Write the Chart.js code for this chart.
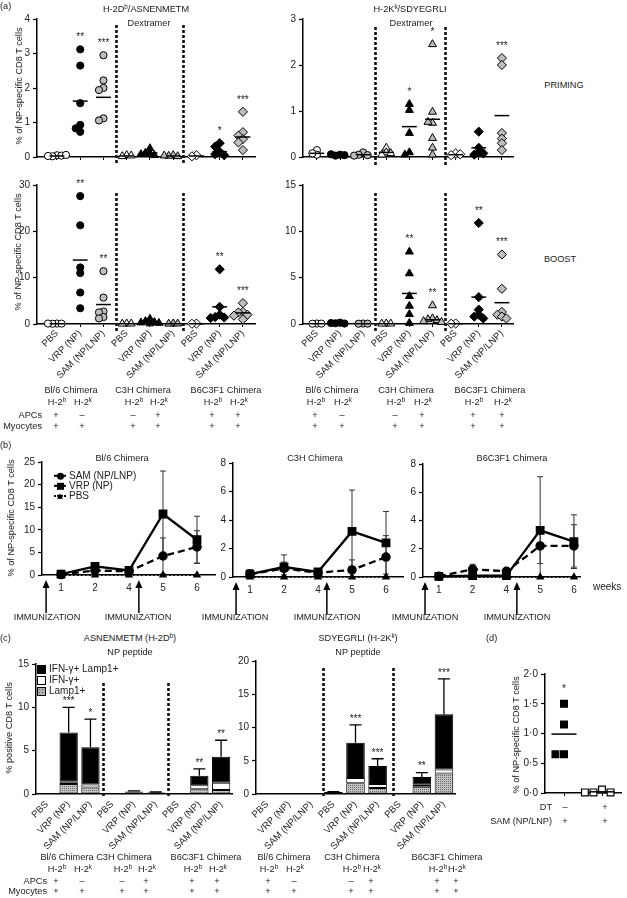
<!DOCTYPE html>
<html>
<head>
<meta charset="utf-8">
<script src="https://cdn.jsdelivr.net/npm/chart.js@4.4.1/dist/chart.umd.min.js"></script>
<style>
  html, body { margin: 0; background: #fff; overflow: hidden; }
  #fig { position: relative; width: 627px; height: 898px; overflow: hidden;
         font-family: "Liberation Sans", Arial, sans-serif; font-size: 9.2px; color: #222; }
  #fig canvas { position: absolute; }
  .t { position: absolute; white-space: nowrap; line-height: 1; }
  sup { font-size: 6.3px; vertical-align: 3.5px; line-height: 0; }
</style>
</head>
<body>
<div id="fig"></div>
<script>
// ---------- data ----------
const groupNames = ['PBS', 'VRP (NP)', 'SAM (NP/LNP)'];
const groupLabels = [...groupNames, ...groupNames, ...groupNames]; // Bl/6, C3H, B6C3F1

// (a) dextramer, one list per group
const primeDb = [
  [0.05, 0.02, 0.04, 0.03, 0.06],
  [3.12, 2.65, 1.56, 0.93, 0.83, 0.73],
  [2.95, 2.22, 2.0, 1.94, 1.12, 1.06],
  [0.05, 0.02, 0.04],
  [0.25, 0.12, 0.1, 0.05, 0.08],
  [0.05, 0.03, 0.02, 0.04],
  [0.05, 0.02],
  [0.4, 0.3, 0.15, 0.08, 0.05],
  [1.31, 0.72, 0.62, 0.52, 0.42, 0.2]
];
const primeDbMean = [0.03, 1.62, 1.73, 0.03, 0.12, 0.03, 0.03, 0.15, 0.58];
const primeDbStars = ['', '**', '***', '', '', '', '', '*', '***'];

const primeKk = [
  [0.15, 0.05, 0.08],
  [0.05, 0.03, 0.04, 0.06],
  [0.1, 0.05, 0.04, 0.03],
  [0.2, 0.1, 0.05, 0.08],
  [1.15, 1.02, 0.52, 0.1, 0.05],
  [2.45, 0.98, 0.74, 0.76, 0.41, 0.2, 0.05],
  [0.08, 0.04, 0.06],
  [0.55, 0.2, 0.1, 0.05, 0.08],
  [2.15, 2.0, 0.52, 0.4, 0.3, 0.15]
];
const primeKkMean = [0.08, 0.05, 0.05, 0.1, 0.66, 0.82, 0.05, 0.2, 0.9];
const primeKkStars = ['', '', '', '', '*', '*', '', '', '***'];

const boostDb = [
  [0.1, 0.05, 0.08, 0.1],
  [27.6, 21.3, 12.2, 11.0, 6.8, 3.4],
  [11.4, 5.7, 2.7, 2.5, 1.5, 1.2],
  [0.1, 0.05, 0.08],
  [1.1, 0.6, 0.4, 0.3, 0.2, 0.1],
  [0.1, 0.05, 0.08],
  [0.1, 0.05],
  [11.8, 3.7, 2.0, 1.5, 1.4, 1.3],
  [4.5, 2.6, 2.5, 2.0, 1.8, 1.0]
];
const boostDbMean = [0.05, 13.8, 4.2, 0.05, 0.4, 0.05, 0.05, 3.7, 2.4];
const boostDbStars = ['', '**', '**', '', '', '', '', '**', '***'];

const boostKk = [
  [0.05, 0.03, 0.04],
  [0.15, 0.08, 0.05, 0.1],
  [0.05, 0.03, 0.04],
  [0.05, 0.03, 0.04],
  [7.8, 5.45, 3.0, 1.95, 1.05, 0.1],
  [2.0, 0.6, 0.5, 0.4, 0.3, 0.2],
  [0.05, 0.03],
  [10.9, 2.9, 1.55, 1.0, 0.8, 0.6],
  [7.5, 3.8, 1.3, 1.0, 0.8, 0.6]
];
const boostKkMean = [0.03, 0.08, 0.03, 0.03, 3.3, 0.45, 0.03, 2.9, 2.3];
const boostKkStars = ['', '', '', '', '**', '**', '', '**', '***'];

// (b) kinetics
const weeks = ['1', '2', '4', '5', '6'];
const bl6Sam = [0.1, 1.0, 0.8, 4.2, 6.2],   bl6SamErr = [0.1, 0.6, 0.3, 4.0, 3.6];
const bl6Vrp = [0.2, 1.9, 1.0, 13.5, 7.8],  bl6VrpErr = [0.3, 0.8, 0.4, 9.5, 5.2];
const c3hSam = [0.2, 0.6, 0.3, 0.5, 1.4],   c3hSamErr = [0.3, 0.45, 0.1, 0.7, 1.5];
const c3hVrp = [0.2, 0.7, 0.35, 3.2, 2.4],  c3hVrpErr = [0.3, 0.85, 0.2, 2.9, 2.2];
const b6Sam = [0.05, 0.55, 0.4, 2.2, 2.2],  b6SamErr = [0.05, 0.35, 0.15, 1.25, 1.5];
const b6Vrp = [0.05, 0.1, 0.1, 3.3, 2.5],   b6VrpErr = [0.05, 0.1, 0.1, 3.8, 1.9];
const pbsLine = [0, 0, 0, 0, 0];

// (c) intracellular staining, stacked
const lampDb = [0.05, 1.15, 0.75, 0.02, 0.1, 0.08, 0.02, 0.55, 0.45];
const ifnDb  = [0.02, 0.25, 0.35, 0.01, 0.05, 0.1, 0.01, 0.45, 0.85];
const dblDb  = [0.03, 5.7, 4.3, 0.02, 0.15, 0.02, 0.02, 1.1, 3.0];
const errDb  = [0, 2.9, 3.25, 0, 0.05, 0.03, 0, 0.8, 1.9];
const starsDb = ['', '***', '*', '', '', '', '', '**', '**'];

const lampKk = [0.02, 0.02, 0.02, 0.1, 1.6, 0.9, 0.02, 1.1, 3.1];
const ifnKk  = [0.01, 0.01, 0.01, 0.05, 0.8, 0.6, 0.01, 0.3, 0.6];
const dblKk  = [0.02, 0.02, 0.02, 0.15, 5.3, 2.7, 0.02, 1.15, 8.3];
const errKk  = [0, 0, 0, 0.05, 2.7, 1.1, 0, 0.65, 5.3];
const starsKk = ['', '', '', '', '***', '***', '', '**', '***'];

// (d) DT depletion
const dtGroups = ['–', '+'];
const dtVals = [[1.5, 1.15, 0.65, 0.65], [0.06, 0.01, 0.01, 0.01]];
const dtMean = [0.99, 0.02];

// ---------- setup ----------
Chart.defaults.font.family = '"Liberation Sans", Arial, sans-serif';
Chart.defaults.font.size = 10;
Chart.defaults.color = '#222';
Chart.defaults.animation = false;
Chart.defaults.responsive = false;
Chart.defaults.devicePixelRatio = 1;
Chart.defaults.plugins.legend.display = false;
Chart.defaults.plugins.tooltip.enabled = false;

const fig = document.getElementById('fig');

function errBar(ctx, px, yLo, yHi, half, capLo) {
  ctx.beginPath();
  ctx.moveTo(px, yLo); ctx.lineTo(px, yHi);
  ctx.moveTo(px - half, yHi); ctx.lineTo(px + half, yHi);
  if (capLo) { ctx.moveTo(px - half, yLo); ctx.lineTo(px + half, yLo); }
  ctx.stroke();
}

// dashed separators, error bars, stars and arrows, all placed through the scales
const extras = {
  id: 'extras',
  beforeDatasetsDraw(chart, args, o) {
    const { ctx } = chart, x = chart.scales.x, y = chart.scales.y;
    ctx.save();
    ctx.strokeStyle = '#333'; ctx.lineWidth = 1;
    (o.errs || []).forEach(e => {
      chart.data.datasets[e.ds].data.forEach((pt, i) => {
        const err = e.err[i];
        if (!err) return;
        const lo = pt.y - err;
        errBar(ctx, x.getPixelForValue(pt.x), y.getPixelForValue(Math.max(lo, 0)),
               y.getPixelForValue(pt.y + err), 3, lo > 0);
      });
    });
    ctx.restore();
  },
  afterDatasetsDraw(chart, args, o) {
    const { ctx } = chart, x = chart.scales.x, y = chart.scales.y;
    ctx.save();
    (o.vlines || []).forEach(v => {
      const px = Math.round(x.getPixelForValue(v)) + 0.5;
      ctx.strokeStyle = '#111'; ctx.lineWidth = 2.6; ctx.setLineDash([3, 2]);
      ctx.beginPath(); ctx.moveTo(px, y.top + o.vTop); ctx.lineTo(px, y.bottom + o.vBelow); ctx.stroke();
    });
    ctx.setLineDash([]);
    const stars = (o.stars || []).slice();
    if (o.stackErr) {
      const ds = chart.data.datasets;
      o.stackErr.err.forEach((err, i) => {
        const total = ds.reduce((s, d) => s + d.data[i], 0);
        const px = x.getPixelForValue(i);
        if (err) {
          ctx.strokeStyle = '#000'; ctx.lineWidth = 1.3;
          errBar(ctx, px, y.getPixelForValue(total), y.getPixelForValue(total + err), 6, false);
        }
        if (o.stackErr.stars[i]) stars.push({ x: i, y: total + err, dy: -6, t: o.stackErr.stars[i] });
      });
    }
    ctx.fillStyle = '#222'; ctx.font = '10px "Liberation Sans", Arial, sans-serif';
    ctx.textAlign = 'center'; ctx.textBaseline = 'middle';
    stars.forEach(s => ctx.fillText(s.t, x.getPixelForValue(s.x), y.getPixelForValue(s.y) + s.dy));
    (o.arrows || []).forEach(v => {
      const px = x.getPixelForValue(v), top = y.bottom + o.arrowTo, bot = y.bottom + o.arrowFrom;
      ctx.strokeStyle = ctx.fillStyle = '#000'; ctx.lineWidth = 1.5;
      ctx.beginPath(); ctx.moveTo(px, bot); ctx.lineTo(px, top + 6); ctx.stroke();
      ctx.beginPath(); ctx.moveTo(px, top); ctx.lineTo(px - 3.5, top + 8); ctx.lineTo(px + 3.5, top + 8);
      ctx.closePath(); ctx.fill();
    });
    ctx.restore();
  }
};
Chart.register(extras);

// canvas placed so that its chart area sits on the given page box
function mkCanvas(box, padL, padR, padT, xH) {
  const c = document.createElement('canvas');
  const w = box.x1 - box.x0 + padL + padR, h = box.yB - box.yT + padT + xH;
  c.width = w; c.height = h;
  c.style.left = (box.x0 - padL) + 'px'; c.style.top = (box.yT - padT) + 'px';
  c.style.width = w + 'px'; c.style.height = h + 'px';
  fig.appendChild(c);
  return c;
}

function yLin(max, step, padL, fmt) {
  return {
    min: 0, max,
    ticks: { stepSize: step, padding: 3, font: { size: 10 }, callback: fmt || (v => v) },
    grid: { drawOnChartArea: false, color: '#000', tickLength: 4, tickWidth: 1.2 },
    border: { color: '#000', width: 1.5 },
    afterFit: s => { s.width = padL; }
  };
}

function xLin(min, max, labels, xH, opt = {}) {
  return {
    type: 'linear', min, max,
    afterBuildTicks: s => { s.ticks = labels.map((_, i) => ({ value: i })); },
    ticks: { display: !!opt.show, autoSkip: false, minRotation: opt.rot || 0, maxRotation: opt.rot || 0,
             padding: opt.pad ?? 2, font: { size: opt.size || 9.5 }, callback: v => labels[v] },
    grid: { drawOnChartArea: false, color: opt.tickColor || '#000', tickLength: 3, tickWidth: 1 },
    border: { color: '#000', width: 1.5 },
    afterFit: s => { s.height = xH; }
  };
}

// simple beeswarm: horizontal offsets (in x units) so markers don't pile up
function swarm(vals, pxY, pxX, step = 4.5, minD = 4.5) {
  const placed = [];
  return vals.map(v => {
    const py = v * pxY;
    for (const k of [0, -1, 1, -2, 2, -3, 3, -4, 4]) {
      const px = k * step;
      if (placed.every(p => Math.hypot(p[0] - px, p[1] - py) >= minD - 0.01)) {
        placed.push([px, py]);
        return px / pxX;
      }
    }
    return 0;
  });
}

const shapes = ['circle', 'triangle', 'rectRot'];
const radii = [3.6, 4.6, 4.6];
const fills = ['#ffffff', '#000000', '#bdbdbd'];

function dexPanel(p) {
  const { box, xMin, xMax, yMax, step, groups, means, stars, vlines, vTop, vBelow, show, padL, xH } = p;
  const pxX = (box.x1 - box.x0) / (xMax - xMin), pxY = (box.yB - box.yT) / yMax;
  const canvas = mkCanvas(box, padL, 10, 10, xH);
  const datasets = [];
  groups.forEach((vals, g) => {
    const off = swarm(vals, pxY, pxX);
    datasets.push({
      data: vals.map((v, i) => ({ x: g + off[i], y: v })),
      pointStyle: shapes[Math.floor(g / 3)], pointRadius: radii[Math.floor(g / 3)],
      backgroundColor: fills[g % 3], borderColor: '#000', borderWidth: 1, clip: false
    });
  });
  means.forEach((m, g) => datasets.unshift({
    data: [{ x: g - 0.32, y: m }, { x: g + 0.32, y: m }], showLine: true, pointRadius: 0,
    borderColor: '#000', borderWidth: 1.5, clip: false
  }));
  const starList = [];
  groups.forEach((vals, g) => { if (stars[g]) starList.push({ x: g, y: Math.max(...vals), dy: -12, t: stars[g] }); });
  new Chart(canvas, {
    type: 'scatter',
    data: { datasets },
    options: {
      layout: { padding: { left: 0, right: 10, top: 10, bottom: 0 } },
      scales: { x: xLin(xMin, xMax, groupLabels, xH, { show, rot: 45, pad: 1 }), y: yLin(yMax, step, padL) },
      plugins: { extras: { vlines, vTop, vBelow, stars: starList } }
    }
  });
}

dexPanel({ box: { x0: 37, x1: 255, yT: 19, yB: 157 }, xMin: -0.86, xMax: 8.52, yMax: 4, step: 1,
  groups: primeDb, means: primeDbMean, stars: primeDbStars, vlines: [2.54, 5.43], vTop: 6, vBelow: 8,
  show: false, padL: 37, xH: 12 });
dexPanel({ box: { x0: 303, x1: 513, yT: 19, yB: 157 }, xMin: -0.6, xMax: 8.48, yMax: 3, step: 1,
  groups: primeKk, means: primeKkMean, stars: primeKkStars, vlines: [2.51, 5.54], vTop: 8, vBelow: 10,
  show: false, padL: 30, xH: 12 });
dexPanel({ box: { x0: 37, x1: 255, yT: 185, yB: 324 }, xMin: -0.86, xMax: 8.52, yMax: 30, step: 10,
  groups: boostDb, means: boostDbMean, stars: boostDbStars, vlines: [2.54, 5.43], vTop: 8, vBelow: 9,
  show: true, padL: 37, xH: 62 });
dexPanel({ box: { x0: 303, x1: 513, yT: 185, yB: 324 }, xMin: -0.6, xMax: 8.48, yMax: 15, step: 5,
  groups: boostKk, means: boostKkMean, stars: boostKkStars, vlines: [2.51, 5.54], vTop: 8, vBelow: 9,
  show: true, padL: 30, xH: 62 });

// (b)
function timePanel(p) {
  const { box, xMin, xMax, yMax, step, sam, samErr, vrp, vrpErr, arrows, padL } = p;
  const canvas = mkCanvas(box, padL, 10, 12, 45);
  const pts = a => a.map((v, i) => ({ x: i, y: v }));
  new Chart(canvas, {
    type: 'scatter',
    data: { datasets: [
      { data: pts(vrp), showLine: true, borderColor: '#000', borderWidth: 2.3, pointStyle: 'rect',
        pointRadius: 4.6, backgroundColor: '#000', clip: false },
      { data: pts(sam), showLine: true, borderColor: '#000', borderWidth: 2.3, borderDash: [7, 4],
        pointStyle: 'circle', pointRadius: 3.6, backgroundColor: '#000', clip: false },
      { data: pts(pbsLine), showLine: true, borderColor: '#000', borderWidth: 1.8, borderDash: [1.5, 2.5],
        pointStyle: 'triangle', pointRadius: 3, backgroundColor: '#000', clip: false }
    ] },
    options: {
      layout: { padding: { left: 0, right: 10, top: 12, bottom: 0 } },
      scales: { x: xLin(xMin, xMax, weeks, 45, { show: true, pad: 4, size: 10, tickColor: 'rgba(0,0,0,0)' }),
                y: yLin(yMax, step, padL) },
      plugins: { extras: { errs: [{ ds: 0, err: vrpErr }, { ds: 1, err: samErr }],
                           arrows, arrowFrom: 38, arrowTo: 5 } }
    }
  });
}
timePanel({ box: { x0: 42, x1: 215, yT: 462, yB: 575 }, xMin: -0.56, xMax: 4.53, yMax: 25, step: 5,
  sam: bl6Sam, samErr: bl6SamErr, vrp: bl6Vrp, vrpErr: bl6VrpErr, arrows: [-0.44, 2.29], padL: 42 });
timePanel({ box: { x0: 233, x1: 403, yT: 463, yB: 577 }, xMin: -0.5, xMax: 4.5, yMax: 8, step: 2,
  sam: c3hSam, samErr: c3hSamErr, vrp: c3hVrp, vrpErr: c3hVrpErr, arrows: [-0.41, 2.26], padL: 30 });
timePanel({ box: { x0: 423, x1: 580, yT: 464, yB: 577 }, xMin: -0.47, xMax: 4.18, yMax: 8, step: 2,
  sam: b6Sam, samErr: b6SamErr, vrp: b6Vrp, vrpErr: b6VrpErr, arrows: [-0.41, 2.31], padL: 30 });

// (c)
function dotPattern() {
  const c = document.createElement('canvas'); c.width = 2; c.height = 2;
  const g = c.getContext('2d');
  g.fillStyle = '#c4c4c4'; g.fillRect(0, 0, 2, 2);
  g.fillStyle = '#6a6a6a'; g.fillRect(0, 0, 1, 1);
  return g.createPattern(c, 'repeat');
}
function barPanel(p) {
  const { box, yMax, step, lamp, ifn, dbl, err, stars, vlines, vTop, vBelow, padL } = p;
  const canvas = mkCanvas(box, padL, 10, 10, 62);
  const ds = [
    { label: 'Lamp1+', data: lamp, backgroundColor: dotPattern() },
    { label: 'IFN-γ+', data: ifn, backgroundColor: '#ffffff' },
    { label: 'IFN-γ+ Lamp1+', data: dbl, backgroundColor: '#000000' }
  ].map(d => Object.assign(d, { borderColor: '#000', borderWidth: 1, borderSkipped: false,
                                barPercentage: 0.84, categoryPercentage: 1 }));
  new Chart(canvas, {
    type: 'bar',
    data: { labels: groupLabels, datasets: ds },
    options: {
      layout: { padding: { left: 0, right: 10, top: 10, bottom: 0 } },
      scales: {
        x: { stacked: true, offset: true,
             ticks: { autoSkip: false, minRotation: 45, maxRotation: 45, padding: 2, font: { size: 9.5 } },
             grid: { drawOnChartArea: false, color: 'rgba(0,0,0,0)', tickLength: 3 },
             border: { color: '#000', width: 1.5 },
             afterFit: s => { s.height = 62; } },
        y: Object.assign(yLin(yMax, step, padL), { stacked: true })
      },
      plugins: { extras: { vlines, vTop, vBelow, stackErr: { err, stars } } }
    }
  });
}
barPanel({ box: { x0: 36, x1: 232, yT: 664, yB: 794 }, yMax: 15, step: 5, lamp: lampDb, ifn: ifnDb,
  dbl: dblDb, err: errDb, stars: starsDb, vlines: [2.57, 5.56], vTop: 19, vBelow: 4, padL: 36 });
barPanel({ box: { x0: 256, x1: 455, yT: 661, yB: 794 }, yMax: 20, step: 5, lamp: lampKk, ifn: ifnKk,
  dbl: dblKk, err: errKk, stars: starsKk, vlines: [2.53, 5.7], vTop: 7, vBelow: 4, padL: 28 });

// (d)
(function () {
  const box = { x0: 545, x1: 625, yT: 674, yB: 794 };
  const canvas = mkCanvas(box, 30, 2, 10, 8);
  const datasets = [];
  dtVals.forEach((vals, g) => {
    const off = swarm(vals, 60, 40, 9, 9);
    datasets.push({ data: vals.map((v, i) => ({ x: g + off[i], y: v })), pointStyle: 'rect', pointRadius: 4.8,
      backgroundColor: g ? '#fff' : '#000', borderColor: '#000', borderWidth: 1.2, clip: false });
  });
  dtMean.forEach((m, g) => datasets.unshift({ data: [{ x: g - 0.33, y: m }, { x: g + 0.33, y: m }],
    showLine: true, pointRadius: 0, borderColor: '#000', borderWidth: 1.5, clip: false }));
  new Chart(canvas, {
    type: 'scatter',
    data: { datasets },
    options: {
      layout: { padding: { left: 0, right: 2, top: 10, bottom: 0 } },
      scales: { x: xLin(-0.5, 1.5, dtGroups, 8, { show: false }),
                y: yLin(2, 0.5, 30, v => v.toFixed(1).replace('.', '·')) },
      plugins: { extras: { stars: [{ x: 0, y: Math.max(...dtVals[0]), dy: -15, t: '*' }] } }
    }
  });
})();

// ---------- annotations (real text) ----------
function T(x, y, html, align = 'c', style = '') {
  const d = document.createElement('div');
  d.className = 't';
  d.innerHTML = html;
  const tr = { c: 'translate(-50%,-50%)', l: 'translate(0,-50%)', r: 'translate(-100%,-50%)',
               v: 'translate(-50%,-50%) rotate(-90deg)' }[align];
  d.style.cssText += `left:${x}px;top:${y}px;transform:${tr};${style}`;
  fig.appendChild(d);
}
const yTitle = '% of NP-specific CD8 T cells';
T(0, 7, '(a)', 'l');
T(146, 10, 'H-2D<sup>b</sup>/ASNENMETM'); T(149, 24, 'Dextramer');
T(410, 10, 'H-2K<sup>k</sup>/SDYEGRLI'); T(411, 24, 'Dextramer');
T(564, 86, 'PRIMING'); T(560, 260, 'BOOST');
T(20, 86, yTitle, 'v'); T(19, 252, yTitle, 'v');

function chimeraBlock(ys, names, xs, rowLabelX) {
  const apc = ['+', '–', '–', '+', '+', '+'];
  names.forEach(([x, n]) => T(x, ys[0], n));
  xs.forEach((x, i) => {
    T(x + 1, ys[1], 'H-2<sup>' + (i % 2 ? 'k' : 'b') + '</sup>');
    T(x, ys[2], apc[i]);
    T(x, ys[3], '+');
  });
  if (rowLabelX) { T(rowLabelX, ys[2], 'APCs', 'r'); T(rowLabelX, ys[3], 'Myocytes', 'r'); }
}
chimeraBlock([391, 403, 416, 427], [[71, 'Bl/6 Chimera'], [143, 'C3H Chimera'], [226, 'B6C3F1 Chimera']],
  [56, 82, 133, 158, 212, 238], 42);
chimeraBlock([391, 403, 416, 427], [[332, 'Bl/6 Chimera'], [406, 'C3H Chimera'], [490, 'B6C3F1 Chimera']],
  [315, 342, 395, 422, 473, 502], 0);

// (b)
T(0, 446, '(b)', 'l');
T(122, 459, 'Bl/6 Chimera'); T(315, 459, 'C3H Chimera'); T(512, 459, 'B6C3F1 Chimera');
T(12, 518, yTitle, 'v');
function legendLine(y, shape, dash, label) {
  const mk = shape === 'tri'
    ? 'left:2px;top:2px;width:6px;height:6px;background:#000;clip-path:polygon(50% 0,100% 100%,0 100%)'
    : `left:1.5px;top:1.5px;width:7px;height:7px;background:#000;${shape === 'c' ? 'border-radius:50%;' : ''}`;
  T(55, y, `<span style="display:inline-block;position:relative;width:10px;height:10px;vertical-align:middle;margin-right:4px">` +
    `<span style="position:absolute;left:-1px;top:4px;width:12px;height:0;border-top:2.2px ${dash} #000"></span>` +
    `<span style="position:absolute;${mk}"></span></span>${label}`, 'l', 'font-size:10px');
}
legendLine(476, 'c', 'dashed', 'SAM (NP/LNP)');
legendLine(486, 's', 'solid', 'VRP (NP)');
legendLine(496, 'tri', 'dotted', 'PBS');
[47, 138, 235, 327, 425, 517].forEach(x => T(x, 618, 'IMMUNIZATION'));
T(593, 587, 'weeks', 'l', 'font-size:10px');

// (c)
T(0, 639, '(c)', 'l');
T(130, 639, 'ASNENMETM (H-2D<sup>b</sup>)'); T(130, 653, 'NP peptide');
T(358, 639, 'SDYEGRLI (H-2K<sup>k</sup>)'); T(358, 653, 'NP peptide');
T(10, 728, '% positive CD8 T cells', 'v');
const sq = bg => `<span style="display:inline-block;width:7px;height:7px;border:1px solid #000;vertical-align:middle;margin-right:3px;${bg}"></span>`;
T(37, 669, sq('background:#000') + 'IFN-γ+ Lamp1+', 'l', 'font-size:10px');
T(37, 680, sq('background:#fff') + 'IFN-γ+', 'l', 'font-size:10px');
T(37, 691, sq('background:#b0b0b0 radial-gradient(#555 0.7px, transparent 0.9px) 0 0/3px 3px') + 'Lamp1+', 'l', 'font-size:10px');
chimeraBlock([858, 870, 882, 892], [[67, 'Bl/6 Chimera'], [124, 'C3H Chimera'], [206, 'B6C3F1 Chimera']],
  [56, 82, 122, 146, 192, 217], 47);
chimeraBlock([858, 870, 882, 892], [[284, 'Bl/6 Chimera'], [352, 'C3H Chimera'], [447, 'B6C3F1 Chimera']],
  [268, 294, 351, 371, 437, 456], 0);

// (d)
T(486, 639, '(d)', 'l');
T(517, 735, yTitle, 'v');
T(552, 808, 'DT', 'r'); T(565, 808, dtGroups[0]); T(605, 808, dtGroups[1]);
T(552, 822, 'SAM (NP/LNP)', 'r'); T(565, 822, '+'); T(605, 822, '+');
</script>
</body>
</html>
